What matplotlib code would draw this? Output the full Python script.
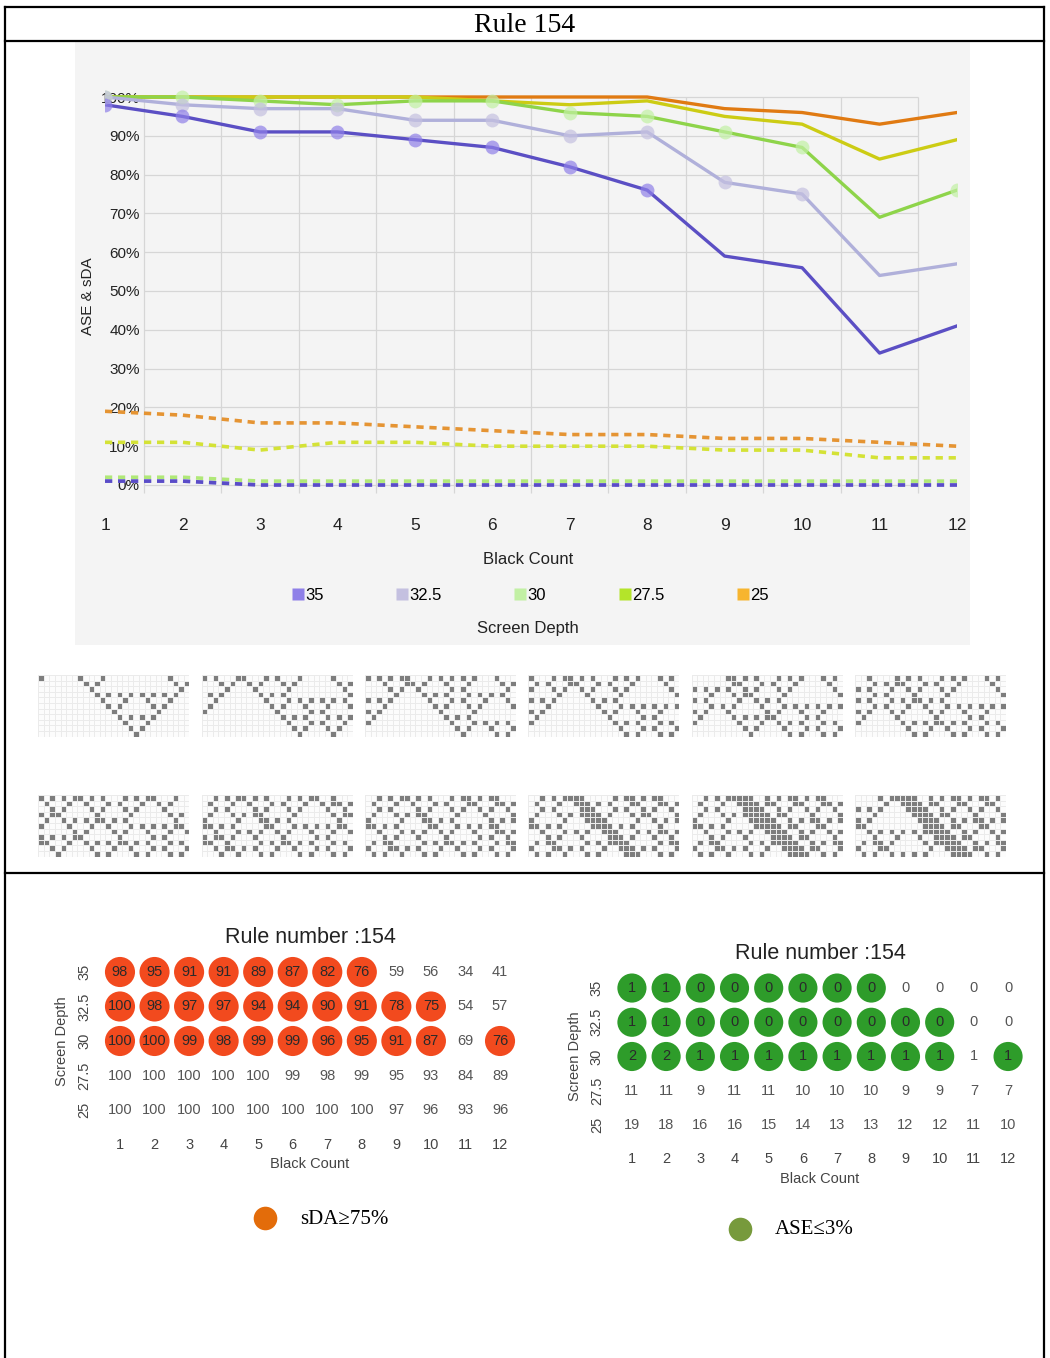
import numpy as np
import matplotlib
matplotlib.use('Agg')
import matplotlib.pyplot as plt
from matplotlib.colors import ListedColormap
from matplotlib.lines import Line2D
from matplotlib.patches import Rectangle

plt.rcParams['font.family'] = ['Liberation Sans', 'DejaVu Sans']
SERIF = ['Liberation Serif', 'DejaVu Serif']

W, H = 1050, 1358

# datos
black_count = list(range(1, 13))
depths = ['35', '32.5', '30', '27.5', '25']

sda_35 = [98, 95, 91, 91, 89, 87, 82, 76, 59, 56, 34, 41]
sda_325 = [100, 98, 97, 97, 94, 94, 90, 91, 78, 75, 54, 57]
sda_30 = [100, 100, 99, 98, 99, 99, 96, 95, 91, 87, 69, 76]
sda_275 = [100, 100, 100, 100, 100, 99, 98, 99, 95, 93, 84, 89]
sda_25 = [100, 100, 100, 100, 100, 100, 100, 100, 97, 96, 93, 96]

ase_35 = [1, 1, 0, 0, 0, 0, 0, 0, 0, 0, 0, 0]
ase_325 = [1, 1, 0, 0, 0, 0, 0, 0, 0, 0, 0, 0]
ase_30 = [2, 2, 1, 1, 1, 1, 1, 1, 1, 1, 1, 1]
ase_275 = [11, 11, 9, 11, 11, 10, 10, 10, 9, 9, 7, 7]
ase_25 = [19, 18, 16, 16, 15, 14, 13, 13, 12, 12, 11, 10]

sda = np.array([sda_35, sda_325, sda_30, sda_275, sda_25])
ase = np.array([ase_35, ase_325, ase_30, ase_275, ase_25])
ok = (sda >= 75) & (ase <= 3)  # celdas que cumplen los dos criterios

line_colors = ['#5b4fc4', '#b0b0da', '#8ed44a', '#cccc14', '#e07a12']
dash_colors = ['#5a4cc8', '#b8b8e6', '#b0e878', '#d4e236', '#e59433']
legend_colors = ['#8f80e8', '#c4c0e0', '#c2f0a4', '#b4e42a', '#f7b52f']

# fila inicial (abajo) de cada patron, indice de columna negra
RULE = 154
N_COLS, N_ROWS = 27, 11
seeds = [
    [17],
    [17, 23],
    [17, 23, 25],
    [17, 19, 23, 25],
    [10, 17, 19, 23, 25],
    [10, 12, 17, 19, 23, 25],
    [3, 10, 12, 17, 19, 23, 25],
    [3, 6, 10, 12, 17, 19, 23, 25],
    [1, 3, 6, 10, 12, 17, 19, 23, 25],
    [1, 3, 6, 10, 12, 17, 18, 19, 23, 25],
    [1, 3, 6, 10, 12, 17, 18, 19, 20, 23, 25],
    [1, 3, 6, 8, 10, 12, 17, 18, 19, 20, 23, 25],
]


def run_ca(seed):
    row = np.zeros(N_COLS, dtype=int)
    row[seed] = 1
    rows = [row]
    for _ in range(N_ROWS - 1):
        idx = 4 * np.roll(row, 1) + 2 * row + np.roll(row, -1)
        row = (RULE >> idx) & 1
        rows.append(row)
    return np.array(rows)


def fx(x):
    return x / W


def fy(y):
    return 1 - y / H


def add_ax(x0, y0, x1, y1):
    return fig.add_axes([x0 / W, 1 - y1 / H, (x1 - x0) / W, (y1 - y0) / H])


def fig_line(xs, ys, lw=1.6):
    fig.add_artist(Line2D([fx(v) for v in xs], [fy(v) for v in ys], color='black',
                          lw=lw, transform=fig.transFigure))


fig = plt.figure(figsize=(W / 100, H / 100), dpi=100)

# marco de la tabla
fig_line([5, 5], [7, 1358])
fig_line([1044, 1044], [7, 1358])
fig_line([5, 1044], [7, 7])
fig_line([5, 1044], [41, 41])
fig_line([5, 1044], [873, 873])
fig.text(fx(525), fy(25), 'Rule 154', ha='center', va='center', fontsize=20, family=SERIF)

# fondo gris del grafico
fig.add_artist(Rectangle((fx(75), fy(645)), (970 - 75) / W, (645 - 42) / H,
                         transform=fig.transFigure, facecolor='#f4f4f4',
                         edgecolor='none', zorder=-1))

# ---- grafico de lineas ----
ax = add_ax(105, 77.6, 957, 504.4)
ax.set_facecolor('none')
ax.set_xlim(1, 12)
ax.set_ylim(-5, 105)
yt = np.arange(0, 101, 10)
ax.hlines(yt, 1.5, 11.5, color='#d6d6d6', lw=0.9, zorder=0)
ax.vlines(np.arange(1.5, 12, 1.0), -2, 100, color='#d6d6d6', lw=0.9, zorder=0)

x = np.array(black_count)
for i in reversed(range(5)):
    ax.plot(x, ase[i], color=dash_colors[i], lw=2.6, ls=(0, (2, 1.6)), zorder=2)
for i in reversed(range(5)):
    ax.plot(x, sda[i], color=line_colors[i], lw=2.4, zorder=3)
    m = ok[i]
    ax.plot(x[m], sda[i][m], 'o', ms=10, color=legend_colors[i], alpha=0.7,
            mec='none', zorder=4)

ax.set_xticks(black_count)
ax.set_yticks(yt)
ax.set_yticklabels([f'{v}%' for v in yt])
ax.tick_params(axis='x', length=0, pad=10, labelsize=12.5, colors='#222222')
ax.tick_params(axis='y', length=0, pad=-25, labelsize=11, colors='#222222')
for s in ax.spines.values():
    s.set_visible(False)

fig.text(fx(88), fy(296), 'ASE & sDA', rotation=90, ha='center', va='center',
         fontsize=11, color='#222222')
fig.text(fx(528), fy(559), 'Black Count', ha='center', va='center', fontsize=12,
         color='#222222')
handles = [Line2D([], [], marker='s', ls='none', ms=9, color=c, mec='none')
           for c in legend_colors]
fig.legend(handles, depths, loc='center', bbox_to_anchor=(fx(530), fy(595)), ncol=5,
           frameon=False, fontsize=12, handletextpad=0.05, columnspacing=4.3,
           handlelength=0.8)
fig.text(fx(528), fy(628), 'Screen Depth', ha='center', va='center', fontsize=12,
         color='#222222')

# ---- patrones ----
grid_x = [38.3, 201.7, 365, 528.3, 691.7, 855]
grid_y = [675, 795]
cmap = ListedColormap(['#fcfcfc', '#7d7d7d'])
for n in range(12):
    gx = grid_x[n % 6]
    gy = grid_y[n // 6]
    a = add_ax(gx, gy, gx + 151, gy + 61.6)
    a.pcolormesh(run_ca(seeds[n]), cmap=cmap, vmin=0, vmax=1,
                 edgecolors='#ebebeb', linewidth=0.45)
    a.set_xlim(0, N_COLS)
    a.set_ylim(0, N_ROWS)
    a.axis('off')


# ---- paneles de puntos ----
def dot_panel(box, values, color, size):
    a = add_ax(*box)
    a.set_xlim(0.3, 12.7)
    a.set_ylim(-0.6, 4.6)
    ii, jj = np.nonzero(ok)
    a.scatter(x[jj], 4 - ii, s=size, color=color, edgecolors='none')
    for i in range(5):
        for j in range(12):
            a.text(x[j], 4 - i, str(values[i, j]), ha='center', va='center',
                   fontsize=10.5, color='#2a2a2a' if ok[i, j] else '#555555')
    a.set_xticks(black_count)
    a.set_yticks(range(5))
    a.set_yticklabels(depths[::-1], rotation=90, va='center')
    a.tick_params(length=0, labelsize=10.5, colors='#444444')
    a.tick_params(axis='x', pad=5)
    a.tick_params(axis='y', pad=3)
    a.set_xlabel('Black Count', fontsize=10.5, labelpad=4, color='#444444')
    a.set_ylabel('Screen Depth', fontsize=10.5, labelpad=6, color='#444444')
    a.set_title('Rule number :154', fontsize=15.5, pad=6, color='#222222')
    for s in a.spines.values():
        s.set_visible(False)
    return a


dot_panel((95.8, 951.3, 524.2, 1130.7), sda, '#f24a1e', 470)
dot_panel((608, 967.5, 1032, 1145.5), ase, '#2e9c2a', 440)

fig.add_artist(Line2D([fx(265)], [fy(1218)], marker='o', ms=17, color='#e36c0a',
                      mec='none', transform=fig.transFigure))
fig.text(fx(300), fy(1220), 'sDA≥75%', ha='left', va='center', fontsize=15, family=SERIF)
fig.add_artist(Line2D([fx(740)], [fy(1229)], marker='o', ms=17, color='#779a3c',
                      mec='none', transform=fig.transFigure))
fig.text(fx(775), fy(1229), 'ASE≤3%', ha='left', va='center', fontsize=15, family=SERIF)

fig.savefig('out.png', dpi=100)
plt.close()
